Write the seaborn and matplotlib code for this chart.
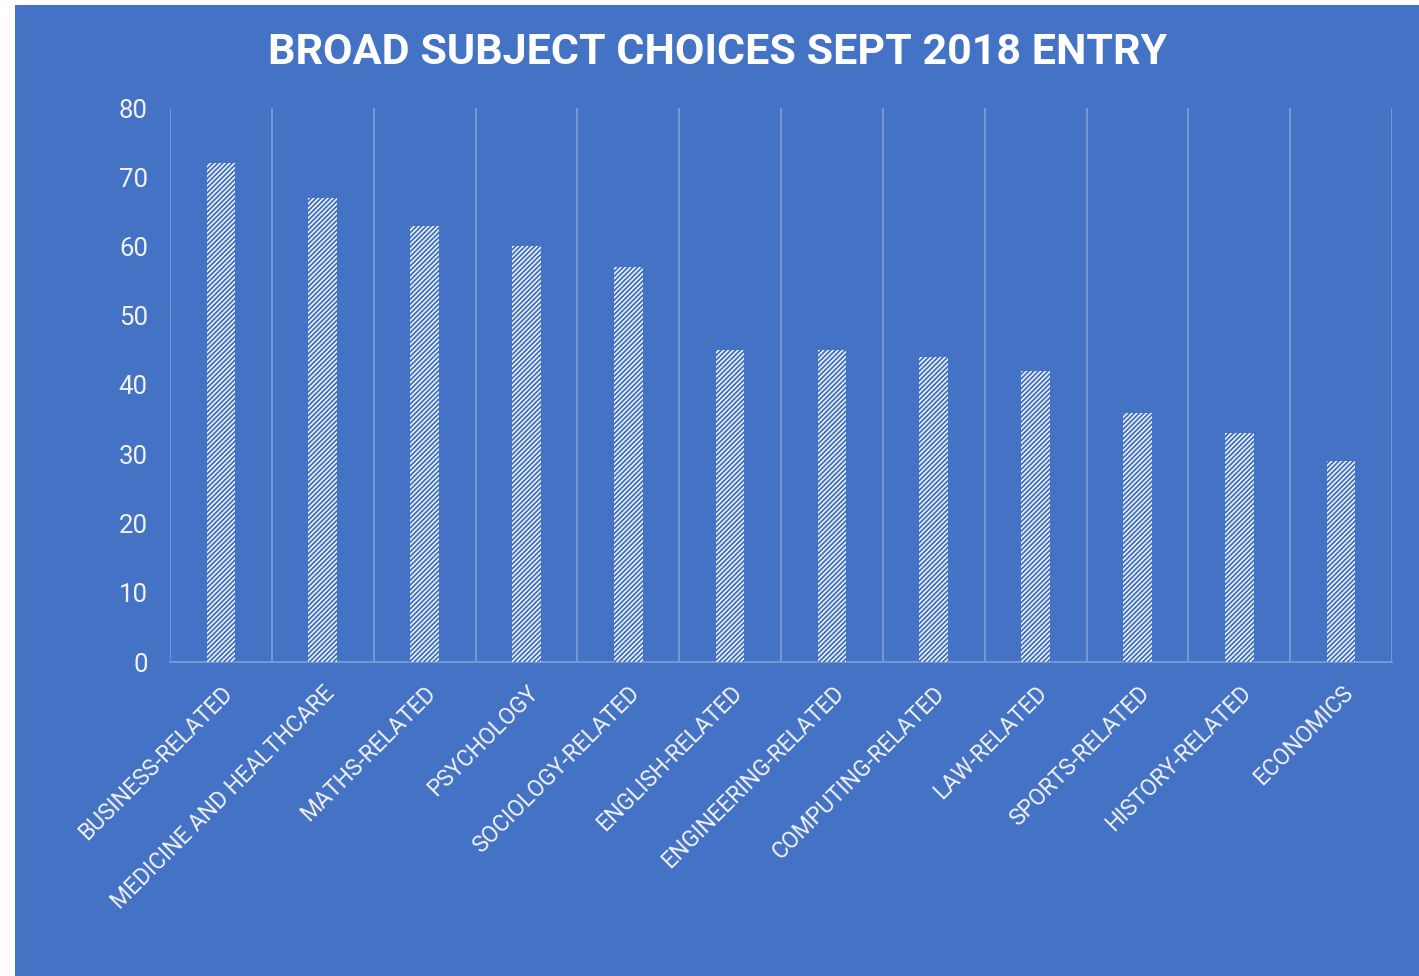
import seaborn as sns
import matplotlib.pyplot as plt
from matplotlib.patches import Rectangle
from matplotlib.ticker import FixedLocator
import pandas as pd

subjects = ["BUSINESS-RELATED", "MEDICINE AND HEALTHCARE", "MATHS-RELATED",
            "PSYCHOLOGY", "SOCIOLOGY-RELATED", "ENGLISH-RELATED",
            "ENGINEERING-RELATED", "COMPUTING-RELATED", "LAW-RELATED",
            "SPORTS-RELATED", "HISTORY-RELATED", "ECONOMICS"]
choices = [72, 67, 63, 60, 57, 45, 45, 44, 42, 36, 33, 29]
y_ticks = [0, 10, 20, 30, 40, 50, 60, 70, 80]

blue = "#4472C4"
grid_col = "#7C9AD4"
txt = "#F2F2F2"

df = pd.DataFrame({"subject": subjects, "choices": choices})

sns.set_style("white")
plt.rcParams["font.family"] = ["Roboto", "DejaVu Sans"]
plt.rcParams["hatch.linewidth"] = 1.4

fig = plt.figure(figsize=(14.19, 9.76), dpi=100)
fig.patch.set_facecolor("white")
# blue card behind the chart, leaving a thin white margin left/top
fig.patches.append(Rectangle((15 / 1419, 0), 1 - 15 / 1419, 1 - 5 / 976,
                             transform=fig.transFigure, facecolor=blue,
                             edgecolor="none", zorder=-10))

ax = fig.add_axes([170 / 1419, 1 - 662 / 976, (1392 - 170) / 1419, (662 - 108) / 976])
ax.set_facecolor("none")

sns.barplot(data=df, x="subject", y="choices", ax=ax, width=0.28,
            color="white", saturation=1, edgecolor=blue, linewidth=0,
            hatch="///////", zorder=3)

ax.set_ylim(0, 80)
ax.set_yticks(y_ticks)
ax.set_xlim(-0.5, len(subjects) - 0.5)

# category boundary lines
ax.xaxis.set_minor_locator(FixedLocator([i - 0.5 for i in range(len(subjects) + 1)]))
ax.grid(True, which="minor", axis="x", color=grid_col, lw=1.3)
ax.grid(False, which="major")

for s in ["top", "right", "left"]:
    ax.spines[s].set_visible(False)
ax.spines["bottom"].set_color(grid_col)
ax.spines["bottom"].set_linewidth(1.3)

ax.tick_params(axis="both", which="both", length=0)
ax.tick_params(axis="y", labelsize=18.5, labelcolor=txt, pad=16)
ax.tick_params(axis="x", labelsize=16.5, labelcolor=txt, pad=14)
for lab in ax.get_xticklabels():
    lab.set_rotation(45)
    lab.set_ha("right")
    lab.set_rotation_mode("anchor")

ax.set_xlabel("")
ax.set_ylabel("")

fig.text(0.5055, 1 - 52 / 976, "BROAD SUBJECT CHOICES SEPT 2018 ENTRY",
         ha="center", va="center", color="white", fontsize=31,
         fontweight="bold")

fig.savefig("out.png", dpi=100, facecolor=fig.get_facecolor())
